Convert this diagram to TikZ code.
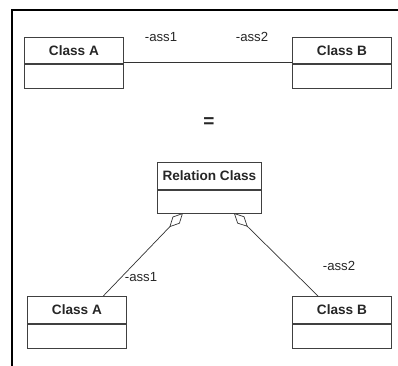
\documentclass[tikz,border=0pt]{standalone}
\usepackage{fontspec}
\setmainfont{Liberation Sans}
\usetikzlibrary{calc}
\begin{document}
\begin{tikzpicture}[x=1pt,y=-1pt,
  classname/.style={draw=black!75, line width=0.8pt, inner sep=0pt, anchor=north west,
    minimum width=99pt, minimum height=26pt, font=\fontsize{13.6}{15}\selectfont\bfseries, text=black!85},
  classattr/.style={draw=black!75, line width=0.8pt, inner sep=0pt, anchor=north,
    minimum width=99pt, minimum height=24pt},
  rolelabel/.style={font=\fontsize{13.2}{15}\selectfont, text=black!85, inner sep=0pt},
  assoc/.style={draw=black!80, line width=0.7pt},
  diamondhead/.style={draw=black!80, line width=0.7pt, fill=white, line join=miter}
]
\useasboundingbox (0,0) rectangle (398,365);

% frame edges
\draw[line width=2pt, line cap=rect] (398,10) -- (12,10) -- (12,365);

% plain association
\node[classname] (ca) at (24,37) {Class A};
\node[classattr] (caa) at (ca.south) {};
\node[classname] (cb) at (292,37) {Class B};
\node[classattr] (cba) at (cb.south) {};
\draw[assoc] ([yshift=1.3pt]ca.south east) -- ([yshift=1.3pt]cb.south west);
\node[rolelabel] (r1) at (161,37) {-ass1};
\node[rolelabel] (r2) at (252,37) {-ass2};

\node[font=\fontsize{19}{20}\selectfont\bfseries, text=black!85, inner sep=0pt] (eq) at (209,123) {=};

% association class form
\node[classname, minimum width=104pt, minimum height=27pt] (rc) at (157,162) {Relation Class};
\node[classattr, minimum width=104pt, minimum height=23pt] (rca) at (rc.south) {};

\node[classname, minimum height=27pt] (ca2) at (27,296) {Class A};
\node[classattr] (ca2a) at (ca2.south) {};
\node[classname, minimum height=27pt] (cb2) at (292,296) {Class B};
\node[classattr] (cb2a) at (cb2.south) {};

% aggregation ends at the relation class
\coordinate (la) at ([xshift=-27pt]rca.south);
\coordinate (lb) at ([xshift=25pt]rca.south);
\coordinate (sa) at ([xshift=-23.5pt]ca2.north east);
\coordinate (sb) at ([xshift=26pt]cb2.north west);
\foreach \tip/\src in {la/sa, lb/sb} {
  \coordinate (\tip-far) at ($(\tip)!18pt!(\src)$);
  \coordinate (\tip-mid) at ($(\tip)!9pt!(\src)$);
  \coordinate (\tip-s1) at ($(\tip-mid)!4.5pt!90:(\tip)$);
  \coordinate (\tip-s2) at ($(\tip-mid)!4.5pt!-90:(\tip)$);
  \draw[assoc] (\src) -- (\tip-far);
  \draw[diamondhead] (\tip) -- (\tip-s1) -- (\tip-far) -- (\tip-s2) -- cycle;
}
\node[rolelabel] (r3) at (141,277) {-ass1};
\node[rolelabel] (r4) at (339,266) {-ass2};
\end{tikzpicture}
\end{document}
